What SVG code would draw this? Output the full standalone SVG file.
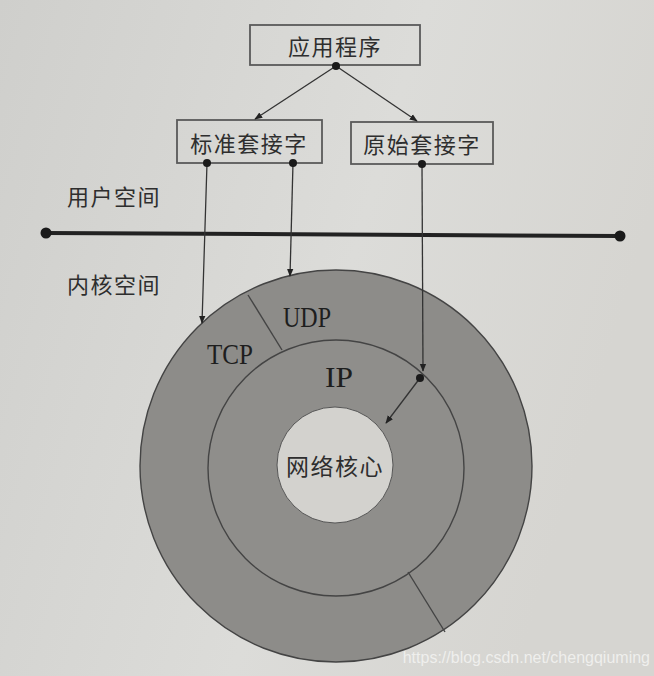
<svg xmlns="http://www.w3.org/2000/svg" width="654" height="676" viewBox="0 0 654 676">
<defs>
<linearGradient id="bg" x1="0" y1="0" x2="1" y2="0.3">
<stop offset="0" stop-color="#cfcfcc"/>
<stop offset="0.6" stop-color="#dcdcd9"/>
<stop offset="1" stop-color="#d6d5d1"/>
</linearGradient>
<marker id="ah" viewBox="0 0 10 10" refX="9" refY="5" markerWidth="8" markerHeight="8" orient="auto-start-reverse" markerUnits="userSpaceOnUse">
<path d="M0,1 L10,5 L0,9 z" fill="#222"/>
</marker>
<style>
.box{fill:none;stroke:#5a5a5a;stroke-width:1.8}
.cn{font-family:"Noto Sans CJK SC","Noto Sans CJK TC",serif;font-size:22px;letter-spacing:1.5px;fill:#2e2e2e;text-anchor:middle;dominant-baseline:central}
.lat{font-family:"Liberation Serif",serif;font-size:30px;fill:#1e1e1e;text-anchor:middle;dominant-baseline:central}
.ln{stroke:#333;stroke-width:1.3;fill:none}
.dot{fill:#1a1a1a}
.ring{stroke:#444;stroke-width:1.4}
</style>
</defs>
<rect width="654" height="676" fill="url(#bg)"/>

<g id="rings">
<circle cx="336" cy="466" r="196" fill="#8d8c89" class="ring"/>
<circle cx="336" cy="468" r="128" fill="#8f8e8b" class="ring"/>
<circle cx="335" cy="465" r="58" fill="#d3d2ce" stroke="#555" stroke-width="1"/>
<line x1="248" y1="295" x2="282" y2="350" class="ring"/>
<line x1="408" y1="572" x2="445" y2="632" class="ring"/>
</g>

<g id="app"><rect x="250" y="25" width="170" height="40" class="box"/><text x="335" y="45" class="cn">应用程序</text></g>
<g id="std"><rect x="177" y="120" width="145" height="43" class="box"/><text x="249" y="142" class="cn">标准套接字</text></g>
<g id="raw"><rect x="351" y="122" width="142" height="42" class="box"/><text x="422" y="143" class="cn">原始套接字</text></g>
<g id="userspace"><text x="114" y="195" class="cn">用户空间</text></g>
<g id="kernelspace"><text x="114" y="283" class="cn">内核空间</text></g>
<g id="tcp"><text x="230" y="353" class="lat" textLength="46" lengthAdjust="spacingAndGlyphs">TCP</text></g>
<g id="udp"><text x="307" y="316" class="lat" textLength="48" lengthAdjust="spacingAndGlyphs">UDP</text></g>
<g id="ip"><text x="339" y="376" class="lat" textLength="28" lengthAdjust="spacingAndGlyphs">IP</text></g>
<g id="core"><text x="335" y="465" class="cn" style="font-size:23px">网络核心</text></g>

<g id="boundary">
<line x1="46" y1="233" x2="620" y2="236" stroke="#222" stroke-width="4"/>
<circle cx="46" cy="233" r="5.5" class="dot"/>
<circle cx="620" cy="236" r="5.5" class="dot"/>
</g>

<g id="connectors">
<line x1="336" y1="66" x2="255" y2="119" class="ln" marker-end="url(#ah)"/>
<line x1="336" y1="66" x2="417" y2="121" class="ln" marker-end="url(#ah)"/>
<line x1="207" y1="163" x2="202" y2="323" class="ln" marker-end="url(#ah)"/>
<line x1="293" y1="163" x2="290" y2="276" class="ln" marker-end="url(#ah)"/>
<line x1="422" y1="164" x2="423" y2="371" class="ln" marker-end="url(#ah)"/>
<line x1="420" y1="378" x2="386" y2="423" class="ln" marker-end="url(#ah)"/>
<circle cx="336" cy="66" r="4" class="dot"/>
<circle cx="207" cy="163" r="4" class="dot"/>
<circle cx="293" cy="163" r="4" class="dot"/>
<circle cx="422" cy="164" r="4" class="dot"/>
<circle cx="420" cy="378" r="4" class="dot"/>
</g>

<text x="650" y="663" text-anchor="end" font-family="Liberation Sans,Arial,sans-serif" font-size="16" fill="#f2f2f0" opacity="0.9">https://blog.csdn.net/chengqiuming</text>
</svg>
